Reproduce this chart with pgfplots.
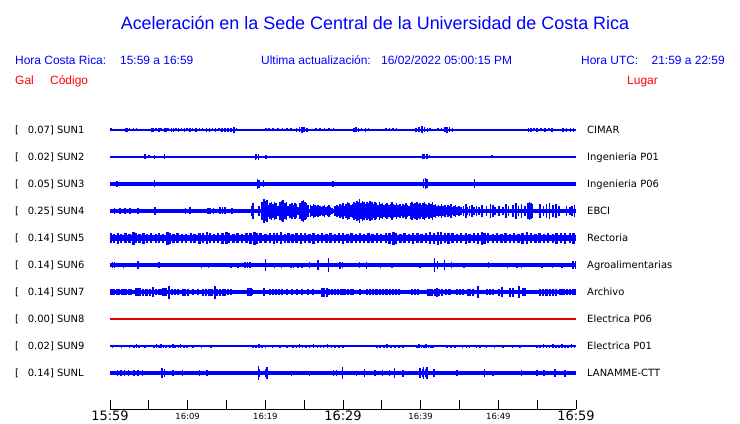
\documentclass[border=0pt]{standalone}
\usepackage{fontspec}
\setmainfont{Liberation Sans}
\newfontfamily\dejavu{DejaVu Sans}
\usepackage{pgfplots}
\usepackage{pgfplotstable}
\pgfplotsset{compat=1.18}
\definecolor{sblue}{RGB}{0,0,255}
\definecolor{sred}{RGB}{255,0,0}
\definecolor{lred}{RGB}{220,0,0}

% SUN1
\pgfplotstableread{
t a
0.1 1.5
0.3 1.2
0.9 1.2
1.3 1.2
2.0 1.8
2.2 2
2.5 1.5
3.0 1.5
3.4 1.5
4.6 1.3
4.9 1.3
5.4 1.8
5.6 2
5.9 1.5
6.3 1.8
6.6 1.5
7.0 2
7.2 1.8
7.5 1.5
7.9 1.8
8.2 2
8.5 1.5
8.8 1.8
9.2 1.5
9.6 2
9.9 1.5
10.3 1.8
10.6 1.5
11.1 1.8
11.5 1.5
11.9 1.5
12.4 1.8
12.8 2
13.2 1.5
13.6 1.8
14.0 1.5
14.4 1.8
14.8 2
15.2 1.8
15.6 2
16.0 2.8
16.3 1.5
17.1 1.3
17.5 1.3
18.2 1.3
18.9 1.3
19.5 1.3
20.1 1.5
20.5 1.5
21.0 1.5
21.6 1.5
22.2 1.5
22.8 1.5
23.3 1.5
24.0 2
24.4 2.5
24.7 3.2
25.0 2.5
25.4 2
26.5 1.5
27.0 1.5
27.6 1.5
28.2 1.5
28.8 1.5
29.4 1.2
30.2 1
30.8 1
31.4 1.8
31.7 2.5
32.0 1.8
32.4 1.5
32.9 2
33.3 1.5
34.5 1.3
35.0 1.3
35.5 1.5
36.0 1.5
36.4 1.5
36.9 1.5
37.4 1.3
38.0 1.3
39.4 2
39.8 2.5
40.2 3.5
40.5 2.5
40.9 2
41.2 1.5
42.2 1.5
42.7 1.5
43.1 2.5
43.4 3.2
43.7 2.5
44.1 1.8
45.5 1.3
46.1 1.3
46.7 1.3
47.3 1.3
47.9 1.3
49.4 1.2
50.2 1.2
51.0 1.2
51.9 1.2
52.7 1.2
53.9 2
54.2 1.8
54.6 1.5
55.0 1.8
55.5 1.5
56.0 1.8
56.5 1.5
56.9 1.8
58.3 2
58.8 1.8
59.3 2
59.7 1.8
}\sunA

% SUN2
\pgfplotstableread{
t a
4.5 2.5
5.0 1.5
5.7 2
7.0 2.5
18.7 3
18.9 2.5
19.1 3
20.1 2
40.3 2.5
40.5 2.5
40.8 2.5
41.1 1.5
49.2 1.5
}\sunB

% SUN3
\pgfplotstableread{
t a
0.9 3
5.7 3.5
19.0 5
19.2 4
19.8 3.5
28.7 3
40.4 4.5
40.6 5.5
40.8 4.5
46.9 4.5
}\sunC

% SUN4
\pgfplotstableread{
t a
0.6 3
1.3 3
1.9 3
2.6 3
3.6 3
5.8 4
9.7 3
10.3 3.5
12.6 3
12.9 3
13.3 3
14.2 3.5
14.5 3.5
14.8 3.5
15.7 3
18.3 5
18.45 8
19.2 5
19.6 9
19.8 12
20.0 10
20.2 11
20.4 6
20.6 8
20.8 9
21.0 7
21.2 9
21.4 8
21.6 5
21.9 9
22.1 10
22.3 11
22.5 8
22.7 9
22.9 5
23.2 7
23.4 8
23.6 6
23.8 8
24.0 7
24.2 4
24.5 8
24.7 10
24.9 11
25.1 9
25.3 8
25.5 6
25.8 6
26.0 5
26.2 7
26.4 6
26.6 5
26.8 6
27.0 5
27.2 4
27.4 5
27.6 6
27.8 4
28.0 5
28.2 6
28.4 4
28.6 3
29.0 5
29.2 6
29.4 5
29.6 7
29.8 6
30.0 8
30.2 5
30.4 7
30.6 9
30.8 8
31.0 6
31.2 7
31.4 9
31.6 8
31.8 10
32.0 9
32.1 12
32.3 8
32.5 10
32.7 9
32.9 7
33.1 9
33.3 8
33.5 10
33.7 9
33.9 7
34.1 9
34.3 8
34.5 6
34.7 9
34.9 7
35.1 8
35.3 6
35.5 7
35.7 8
35.9 6
36.1 7
36.3 9
36.5 7
36.7 6
36.9 8
37.1 6
37.3 7
37.5 5
37.7 7
37.9 6
38.1 8
38.3 6
38.5 5
38.7 8
38.9 9
39.1 7
39.3 8
39.5 9
39.7 7
39.9 8
40.1 6
40.3 8
40.5 9
40.7 7
40.9 6
41.1 8
41.3 7
41.5 9
41.7 6
41.9 7
42.1 5
42.3 6
42.5 5
42.7 7
42.9 5
43.1 6
43.3 4
43.5 6
43.7 5
43.9 7
44.1 4
44.3 5
44.5 6
44.7 4
44.9 5
45.2 4
45.5 5
45.8 7
46.0 4
46.3 5
46.6 6
46.9 4
47.2 5
47.5 4
47.9 6
48.5 5
49.0 7
49.3 6
49.6 4
50.1 5
50.6 4
51.0 7
51.3 5
51.9 6
52.3 8
52.6 5
53.0 7
53.4 5
53.8 8
54.0 9
54.2 8
54.4 7
55.4 7
55.8 5
56.2 7
56.6 8
57.0 6
57.4 7
57.8 5
58.8 5
59.2 4
59.5 5
59.8 6
}\sunD

% SUN5
\pgfplotstableread{
t a
0.1 5
0.5 4.5
1.0 5.5
1.4 4.5
2.0 5
2.5 4.5
3.0 6.5
3.3 5
3.8 4.5
4.3 5.5
4.8 4.5
5.3 5
5.9 4.5
6.3 5
6.8 4.5
7.4 6.5
7.7 5.5
8.2 4.5
8.7 5
9.3 4.5
9.8 4.5
10.4 5
10.9 4.5
11.5 5.5
12.0 5
12.5 6
12.9 5
13.4 4.5
13.9 5
14.5 5.5
15.0 6
15.3 5
15.9 4.5
16.4 5
17.0 4.5
17.6 5
18.1 5.5
18.6 6.5
18.9 5.5
19.4 5
20.0 4.5
20.6 5
21.1 5.5
21.5 5
22.0 6
22.5 4.5
23.0 5
23.5 4.5
24.0 5
24.6 5.5
25.1 5
25.7 4.5
26.2 5.5
26.8 4.5
27.3 5
27.9 4.5
28.4 5
29.0 4.5
29.5 5
30.0 5.5
30.6 4.5
31.1 5
31.7 4.5
32.2 5
32.7 4.5
33.3 5
33.8 4.5
34.4 5
34.9 4.5
35.5 5
36.0 5.5
36.5 6.5
36.8 5.5
37.4 4.5
37.9 5
38.5 4.5
39.0 5.5
39.6 5
40.1 4.5
40.7 5
41.2 6
41.7 5.5
42.2 6.5
42.6 6
43.1 5
43.6 5.5
44.1 5
44.7 4.5
45.2 5
45.8 5.5
46.3 4.5
46.9 5
47.4 5.5
47.9 6.5
48.2 5.5
48.7 5
49.3 4.5
49.8 5
50.4 4.5
50.9 5
51.5 4.5
52.0 5
52.6 4.5
53.1 5.5
53.7 6
54.2 5
54.8 4.5
55.3 5
55.9 4.5
56.4 5
57.0 4.5
57.5 5.5
58.1 5
58.6 5.5
59.2 5
59.7 5.5
}\sunE

% SUN6
\pgfplotstableread{
t a
0.3 3
0.6 3
1.7 2.5
3.6 4
6.3 3
11.8 2.5
12.7 2.5
15.6 2.5
16.5 2.5
17.4 3
17.7 3
18.0 3
20.0 6
21.2 2.5
22.1 2.5
23.3 2.5
23.6 2.5
24.2 2.5
24.7 2.5
25.7 3
26.8 5
28.1 7
29.6 3.5
29.9 3
32.1 3
33.0 3.5
34.8 2.5
36.3 2.5
39.9 2.5
41.8 7
42.2 4
43.1 5
44.0 3
45.6 2.5
48.7 3
51.2 2.5
52.4 2.5
53.0 2.5
55.6 2.5
57.0 2.5
58.2 2.5
59.6 4
59.9 4
}\sunF

% SUN7
\pgfplotstableread{
t a
0.2 3
0.5 3
0.9 3
1.2 3
1.6 3
2.0 3
2.4 3
2.7 3
3.3 4
3.6 4
3.9 4
4.3 3.5
4.7 3.5
5.1 3.5
5.5 5
5.9 3
6.3 3
6.6 3
6.9 4
7.2 4
7.6 6.5
8.0 3
8.4 3
8.8 3
9.4 3.5
9.7 3.5
10.0 3.5
10.7 3
11.3 3
12.0 3.5
12.4 3.5
12.8 3.5
13.1 3.5
13.5 6.5
13.8 3.5
14.2 3.5
14.5 3.5
14.8 3.5
15.2 3
15.6 3
17.8 4
18.1 4
18.3 3
19.8 4
20.6 3
21.0 3
21.4 3
21.8 3
22.1 3
22.8 3
23.4 3
24.1 3
24.7 3
25.5 3
26.1 3
27.3 4.5
27.6 4.5
27.9 4.5
28.2 3
28.6 3
29.0 3
29.4 3
29.8 3
30.2 3
30.6 3
31.0 3
31.3 3
32.2 3
33.1 3
33.5 3
33.9 3
34.3 3
34.8 3
35.2 3
35.6 3
36.0 3
36.4 3
36.8 3
37.2 3
38.9 3
39.3 3
39.7 3
41.0 3.5
41.4 3.5
41.8 3.5
42.1 4.5
42.4 3.5
42.7 3.5
43.3 3
43.7 3
44.7 3
45.1 3
45.4 3
46.1 3.5
46.4 3.5
46.7 3.5
47.4 6
48.5 3
48.9 3
49.3 3
50.1 3.5
50.5 5
51.5 4.5
51.9 4.5
52.7 6
53.2 4
53.4 4
55.4 3.5
55.8 3.5
56.2 3.5
56.6 3.5
57.0 3.5
57.4 3.5
58.0 3
58.4 3
58.8 3
59.2 3
59.6 3
59.9 3
}\sunG

% SUN9
\pgfplotstableread{
t a
0.3 1.5
0.8 1.3
1.5 1.5
2.1 1.3
2.5 1.5
3.1 1.5
3.4 1.8
3.7 1.5
4.5 1.5
4.9 1.3
5.7 1.5
6.0 1.8
6.3 1.5
6.6 1.8
6.9 1.5
7.2 1.5
7.7 1.5
8.1 1.8
8.4 1.5
8.8 1.5
9.1 1.8
9.5 1.5
9.9 1.5
10.7 1.5
11.3 1.3
11.8 1.5
12.4 1.3
13.0 1.5
14.4 1.2
16.1 1.2
17.5 1.2
18.4 1.5
18.8 1.5
19.2 1.8
19.6 1.5
20.0 1.5
20.9 1.5
21.4 1.3
21.9 1.5
22.4 1.3
22.8 1.5
23.6 1.5
24.0 1.5
24.4 1.8
24.8 1.5
25.2 1.5
25.7 1.5
26.2 1.8
26.7 1.5
27.1 1.5
27.5 1.5
28.0 1.8
28.5 1.5
29.0 1.5
29.5 1.5
30.0 1.5
30.6 1.3
33.9 1.3
34.4 1.5
34.8 1.5
35.3 1.5
35.7 1.8
36.2 1.5
36.7 1.5
37.2 1.5
37.7 1.5
38.2 1.3
39.5 1.5
39.8 1.8
40.1 1.5
40.4 1.5
40.7 1.8
41.0 1.5
41.3 1.5
41.6 1.5
43.4 1.5
43.9 1.5
44.4 1.5
44.9 1.3
45.4 1.5
45.9 1.5
46.3 1.5
46.8 1.3
47.2 1.5
47.6 1.5
48.5 1.5
49.0 1.3
49.5 1.5
50.0 1.3
50.6 1.5
51.2 1.3
51.8 1.5
52.3 1.3
52.8 1.5
55.0 1.5
55.4 1.5
55.8 1.8
56.2 1.5
56.6 1.5
57.0 1.8
57.4 1.5
57.8 1.5
58.2 1.8
58.6 1.5
59.0 1.5
59.4 1.8
59.8 1.5
}\sunI

% SUNL
\pgfplotstableread{
t a
1.0 3
1.4 3
1.9 3
2.4 3
3.1 3
3.6 3
4.2 3
6.7 5
7.0 4
8.1 3
9.3 3
11.5 3
12.5 3
19.1 7
19.2 4
20.0 4
20.2 6
23.4 2.5
25.7 2.5
28.8 3
29.2 3
29.9 6
31.7 2.5
32.8 4
34.1 3
35.1 3
36.0 3
36.6 5
37.7 3.5
39.9 5
40.2 4
40.4 6
40.6 4
40.8 6
41.7 4
44.7 3
48.2 4
49.3 2.5
53.0 3
55.0 3
55.9 3
57.3 4
58.6 3.5
}\sunL

\pgfplotsset{
  seis/.style={draw=none, mark=none,
    error bars/.cd, y dir=both, y explicit, error mark=none,
    error bar style={line width=#1, draw=sblue, solid}},
}

\begin{document}
\begin{tikzpicture}[x=1bp,y=1bp]
\path[use as bounding box] (0,0) rectangle (740,423);
\begin{axis}[
  at={(110bp,14bp)}, anchor=south west,
  scale only axis, width=466bp, height=296bp,
  xmin=0, xmax=60, ymin=14, ymax=310,
  axis x line=bottom, axis y line=none,
  axis line style={black, line width=0.8bp, -},
  xtick={0,5,...,60},
  tick align=inside, major tick length=9bp,
  xtick style={black, line width=0.8bp},
  xticklabels={{\fontsize{13}{13}\selectfont 15:59},,{\fontsize{8.5}{8.5}\selectfont 16:09},,{\fontsize{8.5}{8.5}\selectfont 16:19},,{\fontsize{13}{13}\selectfont 16:29},,{\fontsize{8.5}{8.5}\selectfont 16:39},,{\fontsize{8.5}{8.5}\selectfont 16:49},,{\fontsize{13}{13}\selectfont 16:59}},
  xticklabel style={font=\dejavu, anchor=center, yshift=-7bp, inner sep=0pt},
  clip=false,
]
% baselines
\addplot[sblue, line width=1.5bp] coordinates {(0,293) (60,293)};
\addplot[sblue, line width=1.3bp] coordinates {(0,266) (60,266)};
\addplot[sblue, line width=3.6bp] coordinates {(0,239) (60,239)};
\addplot[sblue, line width=3.6bp] coordinates {(0,212) (60,212)};
\addplot[sblue, line width=6.6bp] coordinates {(0,185) (60,185)};
\addplot[sblue, line width=3.4bp] coordinates {(0,158) (60,158)};
\addplot[sblue, line width=3.4bp] coordinates {(0,131) (60,131)};
\addplot[lred, line width=1.3bp] coordinates {(0,104) (60,104)};
\addplot[sblue, line width=1.3bp] coordinates {(0,77) (60,77)};
\addplot[sblue, line width=3.6bp] coordinates {(0,50) (60,50)};
% signals
\addplot[seis=1.6bp] table[x=t, y expr=293, y error=a] {\sunA};
\addplot[seis=1.4bp] table[x=t, y expr=266, y error=a] {\sunB};
\addplot[seis=1.4bp] table[x=t, y expr=239, y error=a] {\sunC};
\addplot[seis=1.6bp] table[x=t, y expr=212, y error=a] {\sunD};
\addplot[seis=2.4bp] table[x=t, y expr=185, y error=a] {\sunE};
\addplot[seis=1.4bp] table[x=t, y expr=158, y error=a] {\sunF};
\addplot[seis=2.2bp] table[x=t, y expr=131, y error=a] {\sunG};
\addplot[seis=1.6bp] table[x=t, y expr=77, y error=a] {\sunI};
\addplot[seis=1.4bp] table[x=t, y expr=50, y error=a] {\sunL};
\end{axis}

% title and header
\node[anchor=base, inner sep=0, text=sblue, font=\fontsize{18}{18}\selectfont] at (375,393) {Aceleración en la Sede Central de la Universidad de Costa Rica};
\begin{scope}[every node/.style={inner sep=0, font=\fontsize{12}{12}\selectfont}]
\node[anchor=base west, text=sblue] at (15,358.7) {Hora Costa Rica:};
\node[anchor=base west, text=sblue] at (120,358.7) {15:59 a 16:59};
\node[anchor=base west, text=sblue] at (261,358.7) {Ultima actualización:};
\node[anchor=base west, text=sblue] at (381,358.7) {16/02/2022 05:00:15 PM};
\node[anchor=base west, text=sblue] at (581,358.7) {Hora UTC:};
\node[anchor=base east, text=sblue] at (725,358.7) {21:59 a 22:59};
\node[anchor=base west, text=sred] at (15,338.7) {Gal};
\node[anchor=base west, text=sred] at (50,338.7) {Código};
\node[anchor=base west, text=sred] at (627,338.7) {Lugar};
\end{scope}

% trace labels
\begin{scope}[every node/.style={inner sep=0, font=\dejavu\fontsize{10}{10}\selectfont}]
\foreach \yy/\gal/\cod/\lug in {293/0.07/SUN1/CIMAR, 266/0.02/SUN2/Ingenieria P01, 239/0.05/SUN3/Ingenieria P06, 212/0.25/SUN4/EBCI, 185/0.14/SUN5/Rectoria, 158/0.14/SUN6/Agroalimentarias, 131/0.14/SUN7/Archivo, 104/0.00/SUN8/Electrica P06, 77/0.02/SUN9/Electrica P01, 50/0.14/SUNL/LANAMME-CTT}{
  \node[anchor=base west] at (15,\yy-3.6) {[};
  \node[anchor=base west] at (27.7,\yy-3.6) {\gal] \cod};
  \node[anchor=base west] at (587,\yy-3.6) {\lug};
}
\end{scope}
\end{tikzpicture}
\end{document}
